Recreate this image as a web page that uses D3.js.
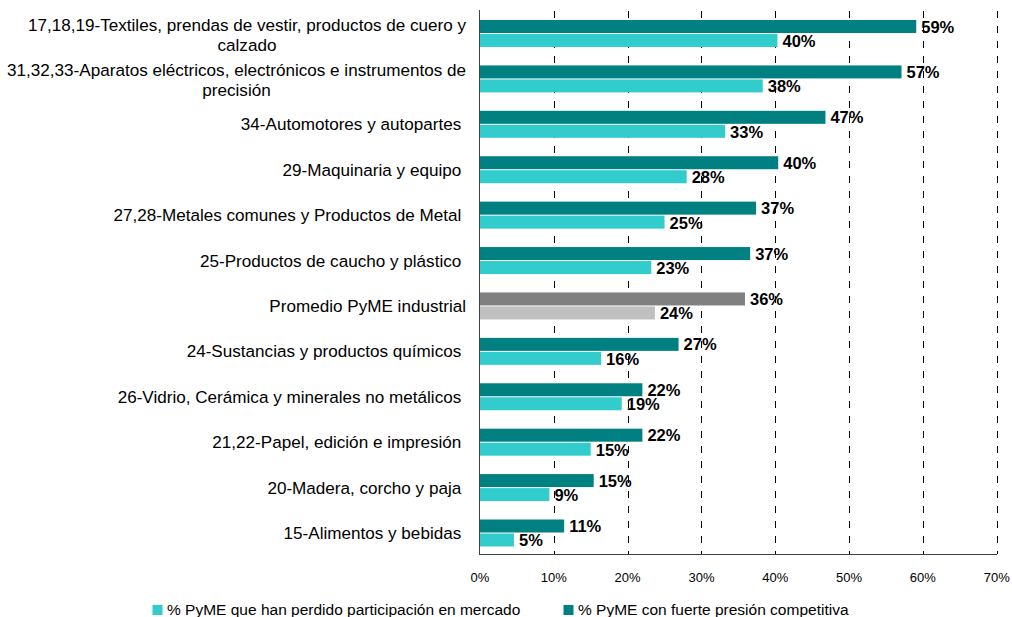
<!DOCTYPE html>
<html>
<head>
<meta charset="utf-8">
<script src="https://cdn.jsdelivr.net/npm/d3@7"></script>
<style>
  html, body { margin: 0; padding: 0; background: #fff; }
  svg { display: block; font-family: "Liberation Sans", Arial, sans-serif; }
  text { white-space: pre; }
</style>
</head>
<body>
<svg id="chart" width="1012" height="617"></svg>
<script>
// ---- Data ----
const categories = [
  ["17,18,19-Textiles, prendas de vestir, productos de cuero y", "calzado"],
  ["31,32,33-Aparatos eléctricos, electrónicos e instrumentos de", "precisión"],
  ["34-Automotores y autopartes "],
  ["29-Maquinaria y equipo "],
  ["27,28-Metales comunes y Productos de Metal "],
  ["25-Productos de caucho y plástico "],
  ["Promedio PyME industrial"],
  ["24-Sustancias y productos químicos "],
  ["26-Vidrio, Cerámica y minerales no metálicos "],
  ["21,22-Papel, edición e impresión "],
  ["20-Madera, corcho y paja "],
  ["15-Alimentos y bebidas "]
];
const presionCompetitiva = [59.1, 57.1, 46.8, 40.4, 37.4, 36.6, 35.9, 26.9, 22.0, 22.0, 15.4, 11.4];
const perdidoParticipacion = [40.3, 38.3, 33.2, 28.0, 25.0, 23.2, 23.7, 16.4, 19.2, 15.0, 9.4, 4.6];
const highlightIndex = 6;
const xTicks = [0, 10, 20, 30, 40, 50, 60, 70];
const legendLabels = ["% PyME que han perdido participación en mercado", "% PyME con fuerte presión competitiva"];

(function () {
// ---- Styles ----
const colDark = "#008080", colLight = "#33CCCC";
const colDarkAvg = "#808080", colLightAvg = "#C0C0C0";

const svg = d3.select("#chart");
const pLeft = 480, pRight = 996.7, pTop = 10.8, pBottom = 555.7;

const x = d3.scaleLinear().domain([0, 70]).range([pLeft, pRight]);
const y = d3.scaleBand().domain(d3.range(categories.length)).range([pTop, pBottom]).padding(0);

const barH = 13;

// Gridlines (dashed)
svg.append("g").selectAll("line").data(xTicks.filter(d => d > 0)).join("line")
  .attr("x1", d => Math.round(x(d)) + 0.5).attr("x2", d => Math.round(x(d)) + 0.5)
  .attr("y1", 11).attr("y2", 554)
  .attr("stroke", "#000").attr("stroke-width", 1)
  .attr("stroke-dasharray", "7,8");

// Bars
const g = svg.append("g");
categories.forEach((c, i) => {
  const cy = y(i) + y.bandwidth() / 2;
  const isAvg = i === highlightIndex;
  g.append("rect")
    .attr("x", x(0)).attr("y", cy - barH - 0.5)
    .attr("width", x(presionCompetitiva[i]) - x(0)).attr("height", barH)
    .attr("fill", isAvg ? colDarkAvg : colDark);
  g.append("rect")
    .attr("x", x(0)).attr("y", cy + 0.5)
    .attr("width", x(perdidoParticipacion[i]) - x(0)).attr("height", barH)
    .attr("fill", isAvg ? colLightAvg : colLight);
  g.append("text")
    .attr("x", x(presionCompetitiva[i]) + 5).attr("y", cy - barH / 2 + 5.5)
    .attr("font-size", "16.5px").attr("font-weight", "bold").attr("fill", "#000")
    .text(Math.round(presionCompetitiva[i]) + "%");
  g.append("text")
    .attr("x", x(perdidoParticipacion[i]) + 5).attr("y", cy + barH / 2 + 7)
    .attr("font-size", "16.5px").attr("font-weight", "bold").attr("fill", "#000")
    .text(Math.round(perdidoParticipacion[i]) + "%");
});

// Axes lines
svg.append("line").attr("x1", 479.5).attr("x2", 479.5).attr("y1", 10).attr("y2", 555)
  .attr("stroke", "#404040").attr("stroke-width", 1);
svg.append("line").attr("x1", 479).attr("x2", 997).attr("y1", 554.5).attr("y2", 554.5)
  .attr("stroke", "#404040").attr("stroke-width", 1);

// X tick labels
svg.append("g").selectAll("text").data(xTicks).join("text")
  .attr("x", d => x(d)).attr("y", 582)
  .attr("text-anchor", "middle").attr("font-size", "13px").attr("fill", "#000")
  .text(d => d + "%");

// Category labels
const labelRight = 466;
const fs = "17.1px";
const catG = svg.append("g");
categories.forEach((lines, i) => {
  const cy = y(i) + y.bandwidth() / 2;
  if (lines.length === 1) {
    catG.append("text")
      .attr("x", labelRight).attr("y", cy + 6)
      .attr("text-anchor", "end").attr("font-size", fs).attr("fill", "#000")
      .text(lines[0]);
  } else {
    const t = catG.append("text").attr("font-size", fs).attr("fill", "#000")
      .attr("text-anchor", "middle");
    const tmp = catG.append("text").attr("font-size", fs).text(lines[0]);
    const w = tmp.node().getComputedTextLength();
    tmp.remove();
    const cx = labelRight - w / 2;
    const lh = 20;
    lines.forEach((ln, k) => {
      t.append("tspan").attr("x", cx)
        .attr("y", cy + 7 + (k - (lines.length - 1) / 2) * lh)
        .text(ln);
    });
  }
});

// Legend
const leg = svg.append("g");
leg.append("rect").attr("x", 152.5).attr("y", 605).attr("width", 10).attr("height", 10).attr("fill", colLight);
leg.append("text").attr("x", 167).attr("y", 615).attr("font-size", "15.5px").attr("fill", "#000").text(legendLabels[0]);
leg.append("rect").attr("x", 563.5).attr("y", 605).attr("width", 10).attr("height", 10).attr("fill", colDark);
leg.append("text").attr("x", 578).attr("y", 615).attr("font-size", "15.5px").attr("fill", "#000").text(legendLabels[1]);
})();
</script>
</body>
</html>
